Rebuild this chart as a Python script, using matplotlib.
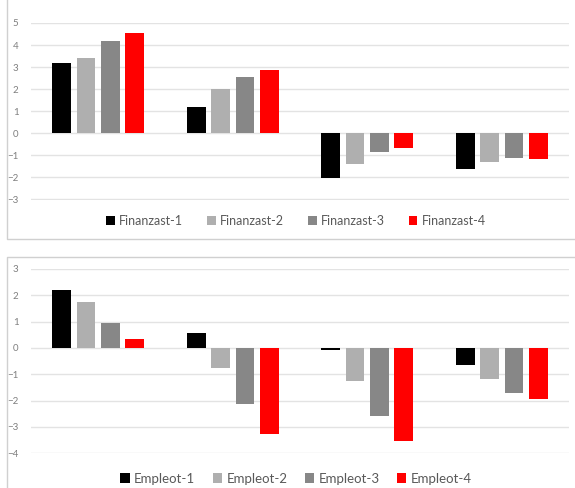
import matplotlib
matplotlib.use('Agg')
import matplotlib.pyplot as plt
from matplotlib.lines import Line2D
import numpy as np

# data
groups = ['G1', 'G2', 'G3', 'G4']
fin_labels = ['Finanzast-1', 'Finanzast-2', 'Finanzast-3', 'Finanzast-4']
fin_values = [
    [3.17, 1.20, -2.02, -1.60],
    [3.42, 2.03, -1.37, -1.28],
    [4.20, 2.56, -0.86, -1.10],
    [4.55, 2.88, -0.68, -1.16],
]
emp_labels = ['Empleot-1', 'Empleot-2', 'Empleot-3', 'Empleot-4']
emp_values = [
    [2.20, 0.56, -0.08, -0.63],
    [1.75, -0.75, -1.25, -1.17],
    [0.94, -2.12, -2.59, -1.71],
    [0.34, -3.25, -3.55, -1.94],
]
colors = ['#000000', '#afafaf', '#878787', '#ff0000']

plt.rcParams['font.family'] = ['Lato', 'DejaVu Sans']

W, H = 575, 488
fig = plt.figure(figsize=(W / 100, H / 100), dpi=100)


def px_axes(x0, y0, x1, y1):
    # pixel box (top-left origin) -> figure axes
    return fig.add_axes([x0 / W, 1 - y1 / H, (x1 - x0) / W, (y1 - y0) / H])


def px_line(xs, ys):
    fig.lines.append(Line2D([x / W for x in xs], [1 - y / H for y in ys],
                            transform=fig.transFigure, color='#d0d0d0', linewidth=1))


def draw_panel(ax, labels, values, ylim, legend_y, legend_fs, colspace):
    x = np.arange(len(groups))
    step, width = 0.182, 0.141
    handles = []
    for i, (lab, vals) in enumerate(zip(labels, values)):
        b = ax.bar(x + (i - 1.5) * step, vals, width, color=colors[i], label=lab, zorder=3)
        handles.append(b)
    ax.set_xlim(-0.5, len(groups) - 0.5)
    ax.set_ylim(*ylim)
    ax.set_yticks(np.arange(ylim[0], ylim[1] + 1))
    ax.set_xticks([])
    ax.grid(axis='y', color='#e3e3e3', linewidth=1, zorder=0)
    for s in ax.spines.values():
        s.set_visible(False)
    ax.tick_params(axis='y', length=0, pad=9, labelsize=7, labelcolor='#7f7f7f')
    fig.legend(handles=handles, labels=labels, loc='center',
               bbox_to_anchor=(296 / W, 1 - legend_y / H), ncol=4, frameon=False,
               fontsize=legend_fs, labelcolor='#595959', handlelength=0.7,
               handleheight=0.7, handletextpad=0.35, columnspacing=colspace)


ax1 = px_axes(31, 23, 569, 199.5)
draw_panel(ax1, fin_labels, fin_values, (-3, 5), 221, 9, 1.9)

ax2 = px_axes(31, 269, 569, 453.3)
draw_panel(ax2, emp_labels, emp_values, (-4, 3), 478.7, 9.5, 1.3)

# panel frames, only the edges that show in the picture
px_line([7, 7, 580], [-5, 238.7, 238.7])
px_line([7, 7, 580], [495, 257, 257])

fig.savefig('out.png', dpi=100)
